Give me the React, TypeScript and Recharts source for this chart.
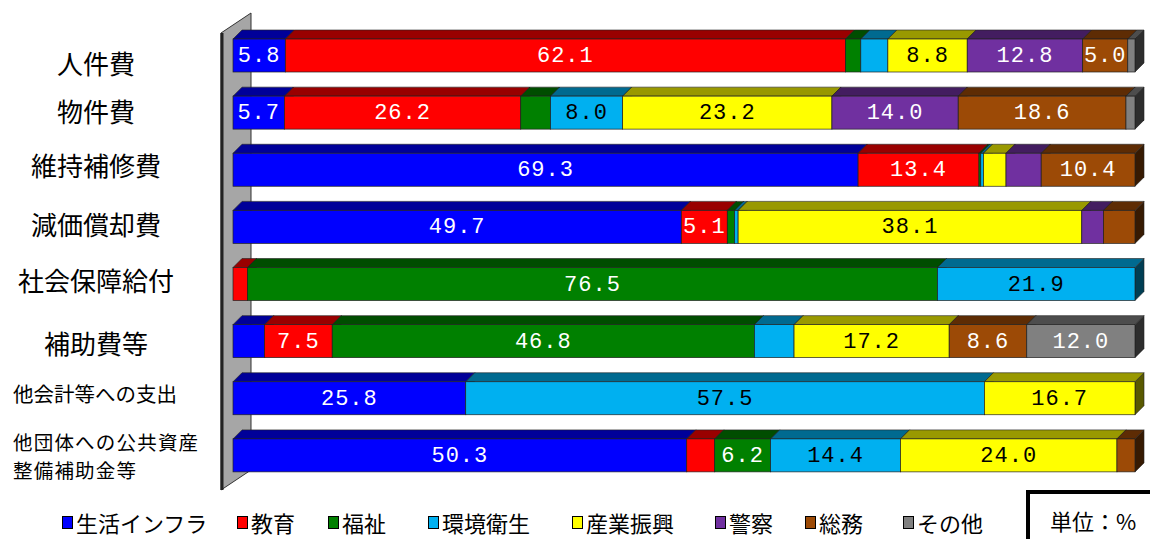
import React from 'react';
import { BarChart, Bar, XAxis, YAxis, LabelList } from 'recharts';

const categories = [
  '人件費',
  '物件費',
  '維持補修費',
  '減価償却費',
  '社会保障給付',
  '補助費等',
  '他会計等への支出',
  '他団体への公共資産\n整備補助金等',
];

const seriesNames = ['生活インフラ', '教育', '福祉', '環境衛生', '産業振興', '警察', '総務', 'その他'];

const infra = [5.8, 5.7, 69.3, 49.7, 0, 3.5, 25.8, 50.3];
const education = [62.1, 26.2, 13.4, 5.1, 1.6, 7.5, 0, 3.1];
const welfare = [1.7, 3.3, 0.2, 0.8, 76.5, 46.8, 0, 6.2];
const environment = [3.0, 8.0, 0.3, 0.4, 21.9, 4.4, 57.5, 14.4];
const industry = [8.8, 23.2, 2.5, 38.1, 0, 17.2, 16.7, 24.0];
const police = [12.8, 14.0, 3.9, 2.4, 0, 0, 0, 0];
const general = [5.0, 18.6, 10.4, 3.5, 0, 8.6, 0, 2.0];
const other = [0.8, 1.0, 0, 0, 0, 12.0, 0, 0];

const seriesValues = [infra, education, welfare, environment, industry, police, general, other];
const seriesKeys = ['s0', 's1', 's2', 's3', 's4', 's5', 's6', 's7'];
const colors = ['#0000ff', '#ff0000', '#008000', '#00b0f0', '#ffff00', '#7030a0', '#9c4a06', '#808080'];
const labelColors = ['#fff', '#fff', '#fff', '#000', '#000', '#fff', '#fff', '#fff'];

// small vertical nudges so the row titles sit like in the original
const labelDy = [7, -2, -5, -3, -5, 1, -5, 0];
// legend item left edges, as in the original
const legendX = [62, 237, 328, 428, 572, 715, 805, 903];

const data = categories.map((name, i) => {
  const row: any = { name };
  seriesKeys.forEach((k, s) => (row[k] = seriesValues[s][i]));
  return row;
});

const DX = 9;
const DY = 9;

const shade = (hex: string, f: number) => {
  const n = parseInt(hex.slice(1), 16);
  const r = Math.round(((n >> 16) & 255) * f);
  const g = Math.round(((n >> 8) & 255) * f);
  const b = Math.round((n & 255) * f);
  return `rgb(${r},${g},${b})`;
};

const Bar3D = (props: any) => {
  const { x, y, width, height, fill } = props;
  if (!width || width <= 0.2) return null;
  const top = `${x},${y} ${x + DX},${y - DY} ${x + width + DX},${y - DY} ${x + width},${y}`;
  const side = `${x + width},${y} ${x + width + DX},${y - DY} ${x + width + DX},${y + height - DY} ${x + width},${y + height}`;
  return (
    <g>
      <polygon points={side} fill={shade(fill, 0.35)} stroke="#222" strokeWidth={0.6} />
      <polygon points={top} fill={shade(fill, 0.6)} stroke="#222" strokeWidth={0.6} />
      <rect x={x} y={y} width={width} height={height} fill={fill} stroke="#222" strokeWidth={0.7} />
    </g>
  );
};

const makeLabel = (color: string) => (props: any) => {
  const { x, y, width, height, value } = props;
  if (value == null || value < 5) return null;
  return (
    <text
      x={x + width / 2}
      y={y + height / 2 + 1}
      textAnchor="middle"
      dominantBaseline="central"
      fill={color}
      fontSize={22}
      letterSpacing={1}
      fontFamily="'Liberation Mono', 'DejaVu Sans Mono', monospace"
    >
      {Number(value).toFixed(1)}
    </text>
  );
};

const CategoryTick = (props: any) => {
  const { y, payload, index } = props;
  const lines = String(payload.value).split('\n');
  const small = index >= 6;
  const cy = y + (labelDy[index] || 0);
  if (!small) {
    return (
      <text x={96} y={cy} textAnchor="middle" dominantBaseline="central" fontSize={26} fill="#000"
        fontFamily="'Noto Sans CJK JP', sans-serif">
        {lines[0]}
      </text>
    );
  }
  const fs = lines.length > 1 ? 19.5 : 20.5;
  return (
    <g>
      {lines.map((l, i) => (
        <text key={i} x={13} y={cy + (i - (lines.length - 1) / 2) * 28.5} textAnchor="start"
          dominantBaseline="central" fontSize={fs} letterSpacing={lines.length > 1 ? 1.2 : 0}
          fill="#000" fontFamily="'Noto Sans CJK JP', sans-serif">
          {l}
        </text>
      ))}
    </g>
  );
};

export default function App() {
  return (
    <div
      style={{
        position: 'absolute',
        top: 0,
        left: 0,
        width: 1150,
        height: 539,
        background: '#fff',
        overflow: 'hidden',
        fontFamily: "'Noto Sans CJK JP', sans-serif",
      }}
    >
      <svg width={1150} height={539} style={{ position: 'absolute', top: 0, left: 0 }}>
        <polygon points="221,33 251,13 251,470 221,490" fill="#a6a6a6" stroke="#333" strokeWidth={1} />
        <line x1={222} y1={33} x2={222} y2={490} stroke="#222" strokeWidth={3} />
      </svg>
      <div style={{ position: 'absolute', top: 0, left: 0 }}>
        <BarChart
          width={1150}
          height={500}
          layout="vertical"
          data={data}
          margin={{ top: 27, right: 15, bottom: 16, left: 0 }}
          barSize={33}
        >
          <XAxis type="number" domain={[0, 100]} hide />
          <YAxis
            type="category"
            dataKey="name"
            width={233}
            axisLine={false}
            tickLine={false}
            tick={<CategoryTick />}
            interval={0}
          />
          {seriesKeys.map((k, s) => (
            <Bar
              key={k}
              dataKey={k}
              name={seriesNames[s]}
              stackId="a"
              fill={colors[s]}
              shape={Bar3D}
              isAnimationActive={false}
            >
              <LabelList dataKey={k} content={makeLabel(labelColors[s])} />
            </Bar>
          ))}
        </BarChart>
      </div>
      {seriesNames.map((n, s) => (
        <div
          key={n}
          style={{
            position: 'absolute',
            left: legendX[s],
            top: 509,
            display: 'flex',
            alignItems: 'center',
            fontSize: 22,
            lineHeight: '26px',
            color: '#000',
            whiteSpace: 'nowrap',
          }}
        >
          <span
            style={{
              width: 9,
              height: 11,
              background: colors[s],
              border: '1.5px solid #000',
              marginRight: 3,
              display: 'inline-block',
            }}
          />
          <span>{n}</span>
        </div>
      ))}
      <div
        style={{
          position: 'absolute',
          left: 1026,
          top: 490,
          width: 140,
          height: 60,
          borderLeft: '4px solid #000',
          borderTop: '4px solid #000',
          boxSizing: 'border-box',
        }}
      >
        <div style={{ position: 'absolute', left: 20, top: 12, fontSize: 22, lineHeight: '28px' }}>単位：%</div>
      </div>
    </div>
  );
}
